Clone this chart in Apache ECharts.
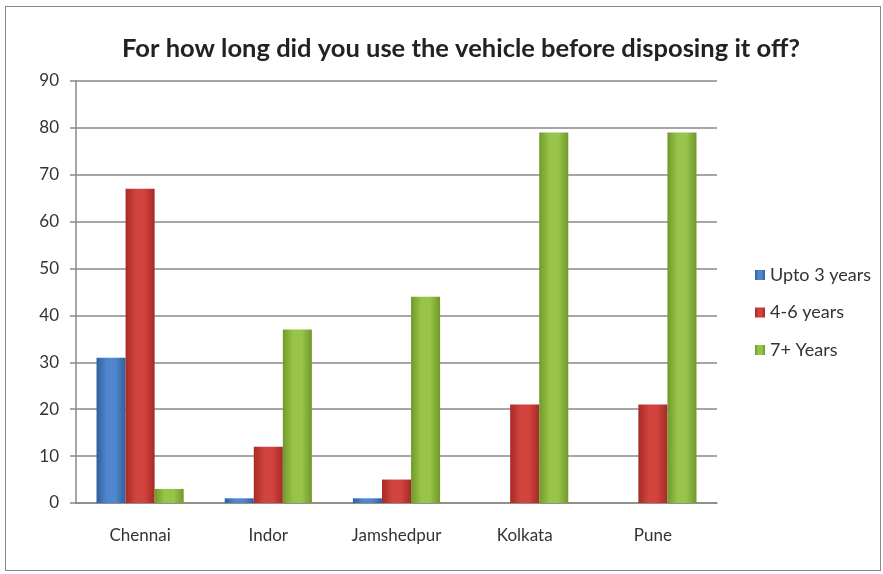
<!DOCTYPE html>
<html>
<head>
<meta charset="utf-8">
<title>Vehicle disposal</title>
<style>
  html, body { margin: 0; padding: 0; background: #fff; }
  #frame { position: absolute; left: 5px; top: 6px; width: 874px; height: 563px; border: 1px solid #8a8a8a; }
  #main { width: 883px; height: 574px; position: absolute; left: 0; top: 0; }
</style>
</head>
<body>
<div id="frame"></div>
<div id="main"></div>
<script src="https://cdn.jsdelivr.net/npm/echarts@6/dist/echarts.min.js"></script>
<script>
// data
var cities = ['Chennai', 'Indor', 'Jamshedpur', 'Kolkata', 'Pune'];
var upto3 = [31, 1, 1, 0, 0];
var years46 = [67, 12, 5, 21, 21];
var years7plus = [3, 37, 44, 79, 79];
var yTicks = [0, 90, 10];

function bevel(dark, light) {
  return new echarts.graphic.LinearGradient(0, 0, 1, 0, [
    { offset: 0, color: dark },
    { offset: 0.35, color: light },
    { offset: 0.65, color: light },
    { offset: 1, color: dark }
  ]);
}

var myChart = echarts.init(document.getElementById('main'));

myChart.setOption({
  animation: false,
  title: {
    text: 'For how long did you use the vehicle before disposing it off?',
    left: 456,
    textAlign: 'center',
    top: 31,
    textStyle: { fontFamily: 'Lato', fontWeight: 'bold', fontSize: 25.5, color: '#222' }
  },
  legend: {
    orient: 'vertical',
    left: 750,
    top: 261,
    itemGap: 19.5,
    itemWidth: 10,
    itemHeight: 10,
    icon: 'rect',
    textStyle: { fontFamily: 'Lato', fontSize: 18, color: '#333' },
    data: ['Upto 3 years', '4-6 years', '7+ Years']
  },
  grid: { left: 76, right: 166, top: 81, bottom: 71 },
  xAxis: {
    type: 'category',
    data: cities,
    axisLine: { lineStyle: { color: '#888', width: 1.5 } },
    axisTick: { show: false },
    axisLabel: { fontFamily: 'Lato', fontSize: 17, color: '#333', margin: 24 }
  },
  yAxis: {
    type: 'value',
    min: yTicks[0],
    max: yTicks[1],
    interval: yTicks[2],
    axisLine: { show: true, lineStyle: { color: '#888', width: 1.5 } },
    axisTick: { show: true, length: 6, lineStyle: { color: '#888', width: 1.5 } },
    axisLabel: { fontFamily: 'Lato', fontSize: 17, color: '#333', margin: 17 },
    splitLine: { lineStyle: { color: '#888', width: 1.5 } }
  },
  series: [
    {
      name: 'Upto 3 years', type: 'bar', data: upto3,
      barGap: '0%', barCategoryGap: '32%',
      itemStyle: { color: bevel('#2f5f9f', '#4f86cc') }
    },
    {
      name: '4-6 years', type: 'bar', data: years46,
      itemStyle: { color: bevel('#a62a27', '#d2433d') }
    },
    {
      name: '7+ Years', type: 'bar', data: years7plus,
      itemStyle: { color: bevel('#6f9a2a', '#98c44a') }
    }
  ]
});
</script>
</body>
</html>
